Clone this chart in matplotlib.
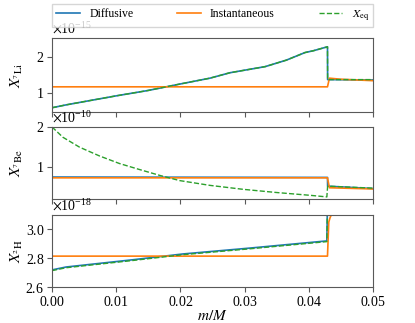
import matplotlib
matplotlib.use("Agg")
import matplotlib.pyplot as plt

plt.rcParams["font.family"] = ["Liberation Serif", "DejaVu Serif"]
plt.rcParams["mathtext.fontset"] = "stix"
plt.rcParams["axes.formatter.use_mathtext"] = True
plt.rcParams["axes.edgecolor"] = "0.35"
plt.rcParams["xtick.color"] = "0.35"
plt.rcParams["ytick.color"] = "0.35"
plt.rcParams["xtick.labelcolor"] = "black"
plt.rcParams["ytick.labelcolor"] = "black"

# =============================
# Data
# =============================
# 7Li (x1e-15)
li_diff_x = [0.0, 0.0022, 0.005, 0.01, 0.015, 0.02, 0.0246, 0.0277, 0.0332, 0.0365, 0.0394, 0.0407, 0.0429, 0.04292, 0.05]
li_diff_y = [0.59, 0.67, 0.76, 0.92, 1.07, 1.25, 1.41, 1.56, 1.73, 1.91, 2.12, 2.17, 2.28, 1.37, 1.36]
li_inst_x = [0.0, 0.0429, 0.0432, 0.045, 0.05]
li_inst_y = [1.17, 1.17, 1.41, 1.38, 1.34]
li_eq_x = li_diff_x
li_eq_y = [0.59, 0.67, 0.76, 0.92, 1.07, 1.25, 1.41, 1.56, 1.73, 1.91, 2.12, 2.17, 2.28, 1.37, 1.37]

# 7Be (x1e-10)
be_diff_x = [0.0, 0.0429, 0.04292, 0.05]
be_diff_y = [0.74, 0.73, 0.51, 0.45]
be_inst_x = [0.0, 0.0429, 0.0432, 0.05]
be_inst_y = [0.72, 0.72, 0.47, 0.44]
be_eq_x = [0.0, 0.0017, 0.0043, 0.0074, 0.0105, 0.0136, 0.0168, 0.0199, 0.0246, 0.0298,
           0.035, 0.0402, 0.0428, 0.04292, 0.05]
be_eq_y = [2.0, 1.74, 1.49, 1.27, 1.08, 0.93, 0.78, 0.65, 0.53, 0.43,
           0.35, 0.28, 0.24, 0.51, 0.46]

# 2H (x1e-18)
h_diff_x = [0.0, 0.0022, 0.0126, 0.0204, 0.0307, 0.0428, 0.04285, 0.0429]
h_diff_y = [2.72, 2.74, 2.79, 2.83, 2.87, 2.92, 3.05, 3.2]
h_inst_x = [0.0, 0.0429, 0.0431, 0.0433, 0.0436, 0.0438]
h_inst_y = [2.815, 2.815, 3.05, 3.08, 3.11, 3.2]
h_eq_x = h_diff_x
h_eq_y = [2.715, 2.735, 2.785, 2.825, 2.865, 2.915, 3.05, 3.2]

# =============================
# Plot
# =============================
fig = plt.figure(figsize=(4.15, 3.23), dpi=100)
L, W = 0.1253, 0.7737
ax1 = fig.add_axes([L, 0.653, W, 0.229])
ax2 = fig.add_axes([L, 0.383, W, 0.224], sharex=ax1)
ax3 = fig.add_axes([L, 0.1105, W, 0.2245], sharex=ax1)

panels = [
    (ax1, li_diff_x, li_diff_y, li_inst_x, li_inst_y, li_eq_x, li_eq_y, 1e-15, (0.47, 2.52), r"$X_{^{7}\mathrm{Li}}$"),
    (ax2, be_diff_x, be_diff_y, be_inst_x, be_inst_y, be_eq_x, be_eq_y, 1e-10, (0.18, 2.0), r"$X_{^{7}\mathrm{Be}}$"),
    (ax3, h_diff_x, h_diff_y, h_inst_x, h_inst_y, h_eq_x, h_eq_y, 1e-18, (2.6, 3.1), r"$X_{^{2}\mathrm{H}}$"),
]

for ax, dx, dy, ix, iy, ex, ey, scale, lim, lab in panels:
    ax.plot(dx, [v * scale for v in dy], color="C0", lw=1.2, label="Diffusive")
    ax.plot(ix, [v * scale for v in iy], color="C1", lw=1.2, label="Instantaneous")
    ax.plot(ex, [v * scale for v in ey], color="C2", lw=1.0, ls="--", label=r"$X_{\rm eq}$")
    ax.set_ylim(lim[0] * scale, lim[1] * scale)
    ax.set_ylabel(lab, fontsize=11)
    ax.yaxis.set_label_coords(-0.085, 0.5)
    ax.tick_params(labelsize=10, pad=2)
    ax.yaxis.get_offset_text().set_fontsize(10)

ax1.set_yticks([1e-15, 2e-15])
ax2.set_yticks([1e-10, 2e-10])
ax3.set_yticks([2.6e-18, 2.8e-18, 3.0e-18])
ax3.set_xlim(0, 0.05)
ax3.set_xticks([0.0, 0.01, 0.02, 0.03, 0.04, 0.05])
plt.setp(ax1.get_xticklabels(), visible=False)
plt.setp(ax2.get_xticklabels(), visible=False)
ax3.set_xlabel(r"$m/M$", fontsize=11, labelpad=0)

ax1.legend(loc="lower left", bbox_to_anchor=(0, 1.15, 1, 0.2), ncol=3, mode="expand",
           borderaxespad=0, borderpad=0.35, fontsize=8.5, handlelength=2.0, fancybox=False)

fig.savefig("out.png", dpi=100)
